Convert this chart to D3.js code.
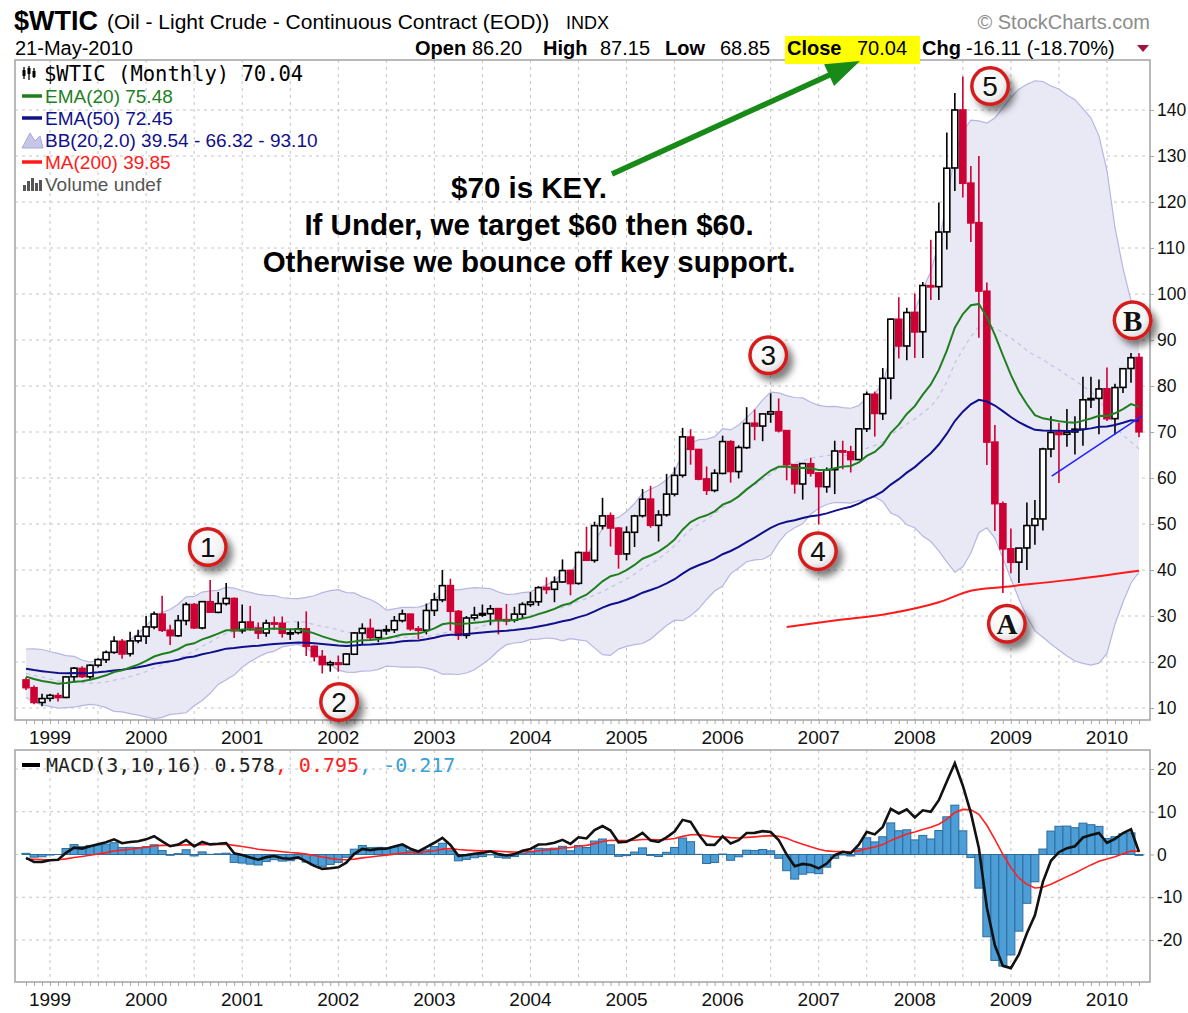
<!DOCTYPE html>
<html>
<head>
<meta charset="utf-8">
<script src="https://cdn.jsdelivr.net/npm/d3@7"></script>
<style>
  body { margin: 0; background: #fff; }
  svg { display: block; }
  text { font-family: "Liberation Sans", Arial, sans-serif; }
</style>
</head>
<body>
<svg width="1188" height="1013"></svg>
<script>
(function () {
  "use strict";

  // ---------- data (monthly, Oct 1998 .. May 2010) ----------
  const yearLabels = ["1999", "2000", "2001", "2002", "2003", "2004", "2005", "2006", "2007", "2008", "2009", "2010"];

  // closes before the first candle, only used to warm up the indicators (Mar 1997 .. Sep 1998)
  const warmupCloses = [20.41, 19.93, 20.88, 19.80, 20.14, 19.61, 21.18, 21.08, 19.15, 17.64,
    17.21, 15.44, 15.61, 15.39, 15.20, 14.18, 14.21, 13.39, 16.14];

  const opens = [
    16.1, 14.4, 11.2,
    12.1, 12.7, 12.3, 16.8, 18.6, 16.8, 19.3, 20.5, 22.1, 24.5, 21.8, 24.6,
    25.6, 27.6, 30.4, 26.9, 25.7, 29.0, 32.5, 27.4, 33.1, 30.8, 32.7, 33.8,
    26.8, 28.7, 27.4, 26.3, 28.5, 28.4, 26.3, 26.4, 27.2, 23.4, 21.2, 19.4,
    19.8, 19.5, 21.7, 26.3, 27.3, 25.3, 26.9, 27.0, 29.0, 30.4, 27.2, 26.9,
    31.2, 33.5, 36.6, 31.0, 25.8, 29.6, 30.2, 30.5, 31.6, 29.2, 29.1, 30.4,
    32.5, 33.1, 36.2, 35.8, 37.4, 39.9, 37.1, 43.8, 42.1, 49.6, 51.8, 49.1,
    43.5, 48.2, 51.8, 55.4, 49.7, 52.0, 56.5, 60.6, 68.9, 66.2, 59.8, 57.3,
    61.0, 67.9, 61.4, 66.6, 71.9, 71.3, 73.9, 74.4, 70.3, 62.9, 58.7, 63.1,
    61.1, 58.1, 61.8, 65.9, 65.7, 64.0, 70.7, 78.2, 74.0, 81.7, 94.5, 88.7,
    96.0, 91.8, 101.8, 101.6, 113.5, 127.4, 140.0, 124.1, 115.5, 100.6, 67.8, 54.4,
    44.6, 41.7, 44.8, 49.7, 51.1, 66.3, 69.9, 69.5, 70.0, 70.6, 77.0, 77.3,
    79.4, 72.9, 79.7, 83.8, 86.2
  ];
  const highs = [
    16.7, 14.9, 13.1,
    13.1, 13.3, 16.9, 18.9, 19.1, 19.5, 20.8, 22.5, 25.6, 25.0, 26.6, 27.0,
    30.0, 31.0, 34.4, 28.1, 30.2, 33.0, 32.8, 33.2, 37.8, 35.2, 37.2, 34.0,
    32.5, 32.2, 28.6, 29.2, 29.9, 29.9, 27.3, 28.8, 31.0, 23.6, 22.6, 20.3,
    21.4, 21.9, 26.5, 28.4, 29.4, 27.0, 28.0, 30.0, 31.4, 30.5, 27.8, 32.7,
    35.0, 39.99, 38.1, 31.3, 30.0, 32.0, 32.5, 32.4, 31.7, 32.6, 32.0, 33.0,
    35.2, 36.5, 38.4, 38.6, 42.3, 40.0, 44.0, 49.4, 50.5, 55.7, 52.5, 49.3,
    49.5, 52.0, 57.6, 58.3, 53.0, 60.9, 62.3, 70.9, 70.6, 66.3, 62.5, 61.9,
    69.2, 68.2, 67.1, 75.4, 74.9, 73.9, 78.4, 77.3, 70.4, 62.9, 63.3, 64.4,
    61.2, 62.3, 68.1, 68.1, 67.0, 70.7, 78.8, 78.8, 83.9, 94.7, 99.3, 97.0,
    100.1, 102.6, 111.8, 119.9, 135.1, 143.7, 147.3, 127.8, 130.0, 102.5, 71.5, 54.9,
    49.0, 43.0, 54.7, 55.2, 66.6, 73.4, 72.0, 75.0, 73.4, 82.0, 82.0, 81.4,
    84.0, 80.5, 83.9, 87.2, 87.15
  ];
  const lows = [
    13.9, 10.8, 10.4,
    11.4, 11.4, 12.1, 15.6, 16.5, 16.3, 18.8, 19.8, 21.8, 20.7, 21.2, 24.1,
    23.9, 27.1, 26.5, 23.7, 25.5, 28.0, 27.2, 27.1, 31.5, 30.6, 32.3, 25.2,
    26.2, 26.8, 25.0, 25.5, 27.0, 25.3, 24.8, 26.0, 21.3, 20.1, 17.5, 17.9,
    17.9, 19.3, 21.5, 23.8, 24.8, 24.3, 25.9, 26.3, 28.6, 26.8, 25.0, 26.0,
    30.0, 33.0, 26.8, 24.8, 25.1, 29.0, 29.8, 28.0, 26.0, 28.0, 28.6, 29.5,
    32.0, 32.2, 34.8, 33.0, 37.2, 34.5, 36.8, 42.0, 41.6, 48.8, 45.1, 40.3,
    42.1, 45.0, 51.4, 49.2, 46.2, 51.6, 56.0, 60.1, 62.9, 59.5, 56.3, 56.9,
    60.8, 59.0, 59.9, 66.3, 68.2, 68.0, 72.0, 69.9, 59.5, 56.6, 55.3, 60.3,
    49.9, 56.8, 56.5, 61.9, 61.2, 64.0, 70.0, 69.0, 72.6, 77.1, 86.0, 85.6,
    86.1, 86.1, 98.7, 98.7, 109.7, 122.4, 121.0, 111.3, 90.5, 62.8, 48.5, 35.0,
    39.3, 37.2, 40.0, 45.5, 48.6, 64.5, 58.9, 66.8, 65.1, 67.0, 75.2, 69.5,
    72.4, 69.5, 78.5, 80.7, 68.85
  ];
  const closes = [
    14.42, 11.22, 12.05,
    12.75, 12.27, 16.76, 18.66, 16.84, 19.29, 20.53, 22.10, 24.51, 21.75, 24.59, 25.60,
    27.64, 30.43, 26.90, 25.74, 29.01, 32.50, 27.43, 33.12, 30.84, 32.70, 33.82, 26.80,
    28.66, 27.39, 26.29, 28.46, 28.37, 26.25, 26.35, 27.20, 23.43, 21.18, 19.44, 19.84,
    19.48, 21.74, 26.31, 27.29, 25.31, 26.86, 27.02, 28.98, 30.45, 27.22, 26.89, 31.20,
    33.51, 36.60, 31.04, 25.80, 29.56, 30.19, 30.54, 31.57, 29.20, 29.11, 30.41, 32.52,
    33.05, 36.16, 35.76, 37.38, 39.88, 37.05, 43.80, 42.12, 49.64, 51.76, 49.13, 43.45,
    48.20, 51.75, 55.40, 49.72, 51.97, 56.50, 60.57, 68.94, 66.24, 59.76, 57.32, 61.04,
    67.92, 61.41, 66.63, 71.88, 71.29, 73.93, 74.40, 70.26, 62.91, 58.73, 63.13, 61.05,
    58.14, 61.79, 65.87, 65.71, 64.01, 70.68, 78.21, 74.04, 81.66, 94.53, 88.71, 95.98,
    91.75, 101.84, 101.58, 113.46, 127.35, 140.00, 124.08, 115.46, 100.64, 67.81, 54.43, 44.60,
    41.68, 44.76, 49.66, 51.12, 66.31, 69.89, 69.45, 69.96, 70.61, 77.00, 77.28, 79.36,
    72.89, 79.66, 83.76, 86.15, 70.04
  ];

  // MA(200): [month index, value]
  const ma200Points = [[95, 27.6], [101, 29.0], [108, 30.6], [114, 33.0], [118, 35.5],
    [122, 36.3], [130, 37.8], [139, 39.85]];
  // hand drawn trend line: [month index, value]
  const trendPoints = [[128.1, 60.4], [139.4, 73.5]];

  const priceTicks = [10, 20, 30, 40, 50, 60, 70, 80, 90, 100, 110, 120, 130, 140];
  const macdTicks = [-20, -10, 0, 10, 20];

  const badges = [
    { label: "1", i: 22.7, v: 45.0 },
    { label: "2", i: 39.1, v: 11.3 },
    { label: "3", i: 92.7, v: 86.7 },
    { label: "4", i: 98.9, v: 44.1 },
    { label: "5", i: 120.4, v: 145.2 },
    { label: "A", i: 122.5, v: 28.3 },
    { label: "B", i: 138.2, v: 94.3 }
  ];
  const noteLines = ["$70 is KEY.", "If Under, we target $60 then $60.", "Otherwise we bounce off key support."];

  // ---------- indicators ----------
  const allCloses = warmupCloses.concat(closes);
  const skip = warmupCloses.length;
  const ema = (vals, n) => {
    const k = 2 / (n + 1);
    const out = [vals[0]];
    for (let i = 1; i < vals.length; i++) out.push(vals[i] * k + out[i - 1] * (1 - k));
    return out;
  };
  const ema20 = ema(allCloses, 20).slice(skip);
  const ema50 = ema(allCloses, 50).slice(skip);
  const macdFull = d3.zip(ema(allCloses, 3), ema(allCloses, 10)).map(([a, b]) => a - b);
  const signalFull = ema(macdFull, 16);
  const macd = macdFull.slice(skip);
  const signal = signalFull.slice(skip);
  const bb = closes.map((c, i) => {
    const win = allCloses.slice(i + skip - 19, i + skip + 1);
    const m = d3.mean(win);
    const sd = Math.sqrt(d3.mean(win, (v) => (v - m) * (v - m)));
    return { i, mid: m, upper: m + 2 * sd, lower: m - 2 * sd };
  });

  const bars = closes.map((c, i) => ({
    i, o: opens[i], h: highs[i], l: lows[i], c,
    prev: i ? closes[i - 1] : warmupCloses[skip - 1]
  }));

  // ---------- layout ----------
  const svg = d3.select("svg");
  const main = { left: 15, right: 1150, top: 60, bottom: 720 };
  const lower = { left: 15, right: 1150, top: 750, bottom: 982 };

  const x = d3.scaleLinear().domain([-1, 140]).range([18, 1147]);
  const y = d3.scaleLinear().domain([10, 140]).range([708, 110]);
  const ym = d3.scaleLinear().domain([-20, 20]).range([940, 769]);
  const step = x(1) - x(0);
  const yearIdx = yearLabels.map((d, k) => 3 + 12 * k);
  const halfIdx = d3.range(3, 140, 6);

  const defs = svg.append("defs");
  defs.append("clipPath").attr("id", "clipMain").append("rect")
    .attr("x", main.left).attr("y", main.top)
    .attr("width", main.right - main.left).attr("height", main.bottom - main.top);
  defs.append("clipPath").attr("id", "clipLower").append("rect")
    .attr("x", lower.left).attr("y", lower.top)
    .attr("width", lower.right - lower.left).attr("height", lower.bottom - lower.top);
  defs.append("filter").attr("id", "shadow")
    .attr("x", "-50%").attr("y", "-50%").attr("width", "220%").attr("height", "220%")
    .append("feDropShadow")
    .attr("dx", 5).attr("dy", 6).attr("stdDeviation", 3.5)
    .attr("flood-color", "#000").attr("flood-opacity", 0.5);
  const grad = defs.append("radialGradient").attr("id", "badgeFill")
    .attr("cx", "40%").attr("cy", "35%").attr("r", "70%");
  grad.append("stop").attr("offset", "0%").attr("stop-color", "#ffffff");
  grad.append("stop").attr("offset", "70%").attr("stop-color", "#f4f4f4");
  grad.append("stop").attr("offset", "100%").attr("stop-color", "#d8d8d8");

  // ---------- grids ----------
  const grid = (panel, yTicks, yScale) => {
    const g = svg.append("g").attr("stroke", "#c4c4c4").attr("stroke-dasharray", "3,4");
    g.selectAll("line.v").data(halfIdx).enter().append("line")
      .attr("x1", (d) => x(d)).attr("x2", (d) => x(d))
      .attr("y1", panel.top).attr("y2", panel.bottom);
    g.selectAll("line.h").data(yTicks).enter().append("line")
      .attr("x1", panel.left).attr("x2", panel.right)
      .attr("y1", (d) => yScale(d)).attr("y2", (d) => yScale(d));
  };
  grid(main, priceTicks, y);
  grid(lower, macdTicks, ym);

  // ---------- price panel ----------
  const gm = svg.append("g").attr("clip-path", "url(#clipMain)");

  gm.append("path").datum(bb)
    .attr("fill", "#e9e9f5").attr("stroke", "none")
    .attr("d", d3.area().x((d) => x(d.i)).y0((d) => y(d.lower)).y1((d) => y(d.upper)));
  ["upper", "lower"].forEach((k) => {
    gm.append("path").datum(bb)
      .attr("fill", "none").attr("stroke", "#b6b6e2").attr("stroke-width", 1.2)
      .attr("d", d3.line().x((d) => x(d.i)).y((d) => y(d[k])));
  });
  gm.append("path").datum(bb)
    .attr("fill", "none").attr("stroke", "#c2c2e6").attr("stroke-width", 1.2)
    .attr("stroke-dasharray", "4,4")
    .attr("d", d3.line().x((d) => x(d.i)).y((d) => y(d.mid)));

  gm.append("path").datum(ma200Points)
    .attr("fill", "none").attr("stroke", "#ff1a1a").attr("stroke-width", 2)
    .attr("d", d3.line().x((d) => x(d[0])).y((d) => y(d[1])).curve(d3.curveMonotoneX));

  const candleColor = (d) => (d.c < d.prev ? "#cc0033" : "#000");
  const candles = gm.append("g").selectAll("g").data(bars).enter().append("g");
  candles.append("line")
    .attr("x1", (d) => x(d.i)).attr("x2", (d) => x(d.i))
    .attr("y1", (d) => y(d.h)).attr("y2", (d) => y(d.l))
    .attr("stroke", candleColor).attr("stroke-width", 1.6);
  candles.append("rect")
    .attr("x", (d) => x(d.i) - 3)
    .attr("width", 6)
    .attr("y", (d) => y(Math.max(d.o, d.c)))
    .attr("height", (d) => Math.max(1.2, Math.abs(y(d.o) - y(d.c))))
    .attr("fill", (d) => (d.c >= d.o ? "#fff" : candleColor(d)))
    .attr("stroke", candleColor).attr("stroke-width", 1.6);

  const lineIdx = d3.line().x((d, i) => x(i)).y((d) => y(d));
  gm.append("path").datum(ema50)
    .attr("fill", "none").attr("stroke", "#10108c").attr("stroke-width", 2)
    .attr("d", lineIdx);
  gm.append("path").datum(ema20)
    .attr("fill", "none").attr("stroke", "#1f7f1f").attr("stroke-width", 2)
    .attr("d", lineIdx);

  gm.append("path").datum(trendPoints)
    .attr("fill", "none").attr("stroke", "#2222ff").attr("stroke-width", 1.6)
    .attr("d", d3.line().x((d) => x(d[0])).y((d) => y(d[1])));

  // ---------- MACD panel ----------
  const gl = svg.append("g").attr("clip-path", "url(#clipLower)");
  gl.selectAll("rect").data(macd.map((m, i) => ({ i, h: m - signal[i] }))).enter().append("rect")
    .attr("x", (d) => x(d.i) - step / 2)
    .attr("width", step)
    .attr("y", (d) => Math.min(ym(0), ym(d.h)))
    .attr("height", (d) => Math.abs(ym(d.h) - ym(0)))
    .attr("fill", "#4d9dd6").attr("stroke", "#2c6d9e").attr("stroke-width", 1);
  gl.append("path").datum(signal)
    .attr("fill", "none").attr("stroke", "#ff2020").attr("stroke-width", 1.6)
    .attr("d", d3.line().x((d, i) => x(i)).y((d) => ym(d)));
  gl.append("path").datum(macd)
    .attr("fill", "none").attr("stroke", "#111").attr("stroke-width", 2.6)
    .attr("d", d3.line().x((d, i) => x(i)).y((d) => ym(d)));

  // ---------- frames and axes ----------
  [main, lower].forEach((p) => {
    svg.append("rect")
      .attr("x", p.left).attr("y", p.top)
      .attr("width", p.right - p.left).attr("height", p.bottom - p.top)
      .attr("fill", "none").attr("stroke", "#a8a8a8").attr("stroke-width", 1.6);
  });

  const yearAxis = (yPos) => {
    const g = svg.append("g").attr("transform", `translate(0,${yPos})`)
      .call(d3.axisBottom(x).tickValues(d3.range(0, 140)).tickSize(4).tickFormat(""));
    g.select(".domain").remove();
    g.selectAll(".tick line").attr("stroke", "#a8a8a8");
    svg.append("g").selectAll("text").data(yearIdx).enter().append("text")
      .attr("x", (d) => x(d)).attr("y", yPos + 24)
      .attr("text-anchor", "middle")
      .style("font-size", "19px").attr("fill", "#111")
      .text((d, k) => yearLabels[k]);
  };
  yearAxis(main.bottom);
  yearAxis(lower.bottom);

  const rightAxis = (scale, ticks) => {
    const g = svg.append("g").attr("transform", `translate(${main.right},0)`)
      .call(d3.axisRight(scale).tickValues(ticks).tickSize(4).tickPadding(3)
        .tickFormat((d) => String(d)));
    g.select(".domain").remove();
    g.selectAll(".tick line").attr("stroke", "#a8a8a8");
    g.selectAll(".tick text")
      .style("font-family", "'Liberation Sans', Arial, sans-serif")
      .style("font-size", "17.5px").attr("fill", "#111");
  };
  rightAxis(y, priceTicks);
  rightAxis(ym, macdTicks);

  // ---------- header ----------
  svg.append("text").attr("x", 14).attr("y", 30)
    .style("font-size", "27px").style("font-weight", "bold").text("$WTIC");
  svg.append("text").attr("x", 107).attr("y", 29)
    .style("font-size", "21px").text("(Oil - Light Crude - Continuous Contract (EOD))");
  svg.append("text").attr("x", 566).attr("y", 29)
    .style("font-size", "18px").text("INDX");
  svg.append("text").attr("x", 15).attr("y", 55)
    .style("font-size", "20px").text("21-May-2010");
  svg.append("text").attr("x", 1150).attr("y", 29).attr("text-anchor", "end")
    .style("font-size", "20px").attr("fill", "#8c8c8c").text("\u00A9 StockCharts.com");

  svg.append("rect").attr("x", 785).attr("y", 36).attr("width", 135).attr("height", 28)
    .attr("fill", "#ffff00");
  const stats = [
    ["Open", true, 415], ["86.20", false, 472], ["High", true, 543], ["87.15", false, 600],
    ["Low", true, 665], ["68.85", false, 720], ["Close", true, 787], ["70.04", false, 857],
    ["Chg", true, 922], ["-16.11 (-18.70%)", false, 966]
  ];
  svg.append("g").selectAll("text").data(stats).enter().append("text")
    .attr("x", (d) => d[2]).attr("y", 55)
    .style("font-size", "20px")
    .style("font-weight", (d) => (d[1] ? "bold" : "normal"))
    .text((d) => d[0]);
  svg.append("path").attr("d", "M1137,45 L1149,45 L1143,52 Z").attr("fill", "#a3123f");

  // ---------- legends ----------
  const lg = svg.append("g");
  // price glyph
  [[24, 67, 79, 70, 76], [29, 66, 80, 68, 74], [34, 68, 78, 71, 77]].forEach((c) => {
    lg.append("line").attr("x1", c[0]).attr("x2", c[0]).attr("y1", c[1]).attr("y2", c[2])
      .attr("stroke", "#000").attr("stroke-width", 1.3);
    lg.append("rect").attr("x", c[0] - 1.5).attr("y", c[3]).attr("width", 3).attr("height", c[4] - c[3])
      .attr("fill", "#000");
  });
  lg.append("text").attr("x", 44).attr("y", 81)
    .style("font-size", "20.5px").style("font-family", "'DejaVu Sans Mono', monospace")
    .text("$WTIC (Monthly) 70.04");

  const legendRows = [
    { y: 96, color: "#1f7f1f", text: "EMA(20) 75.48", icon: "dash" },
    { y: 118, color: "#10108c", text: "EMA(50) 72.45", icon: "dash" },
    { y: 140, color: "#10108c", text: "BB(20,2.0) 39.54 - 66.32 - 93.10", icon: "band" },
    { y: 162, color: "#ff1a1a", text: "MA(200) 39.85", icon: "dash" },
    { y: 184, color: "#555", text: "Volume undef", icon: "vol" }
  ];
  legendRows.forEach((r) => {
    if (r.icon === "dash") {
      lg.append("line").attr("x1", 22).attr("x2", 42).attr("y1", r.y).attr("y2", r.y)
        .attr("stroke", r.color).attr("stroke-width", 3.5);
    } else if (r.icon === "band") {
      lg.append("path").attr("d", `M22,${r.y + 8} L30,${r.y - 7} L35,${r.y + 1} L40,${r.y - 4} L43,${r.y + 8} Z`)
        .attr("fill", "#c6c6e8").attr("stroke", "#a8a8d8");
    } else {
      [[23, 6], [27, 10], [31, 13], [35, 8], [39, 11]].forEach((b) => {
        lg.append("rect").attr("x", b[0]).attr("y", r.y + 7 - b[1]).attr("width", 3).attr("height", b[1])
          .attr("fill", "#555");
      });
    }
    lg.append("text").attr("x", 45).attr("y", r.y + 7)
      .style("font-size", "19px").attr("fill", r.color).text(r.text);
  });

  lg.append("line").attr("x1", 22).attr("x2", 40).attr("y1", 765).attr("y2", 765)
    .attr("stroke", "#000").attr("stroke-width", 4);
  const ml = lg.append("text").attr("x", 46).attr("y", 772)
    .style("font-size", "20px").style("font-family", "'DejaVu Sans Mono', monospace");
  ml.append("tspan").attr("fill", "#222").text("MACD(3,10,16) 0.578");
  ml.append("tspan").attr("fill", "#ff2020").text(", 0.795");
  ml.append("tspan").attr("fill", "#3aa0d8").text(", -0.217");

  // ---------- annotations ----------
  const notes = svg.append("g");
  notes.selectAll("text").data(noteLines).enter().append("text")
    .attr("x", 529).attr("y", (d, k) => 198 + 37 * k)
    .attr("text-anchor", "middle")
    .style("font-size", "29.5px").style("font-weight", "bold").attr("fill", "#000")
    .text((d) => d);

  const tail = [612, 174], tip = [860, 61];
  const dx = tip[0] - tail[0], dy = tip[1] - tail[1];
  const len = Math.hypot(dx, dy), ux = dx / len, uy = dy / len;
  const headLen = 34, headW = 12;
  const bx = tip[0] - ux * headLen, by = tip[1] - uy * headLen;
  notes.append("line")
    .attr("x1", tail[0]).attr("y1", tail[1]).attr("x2", bx + ux * 4).attr("y2", by + uy * 4)
    .attr("stroke", "#178a17").attr("stroke-width", 5.5);
  notes.append("path")
    .attr("d", `M${tip[0]},${tip[1]} L${bx - uy * headW},${by + ux * headW} L${bx + uy * headW},${by - ux * headW} Z`)
    .attr("fill", "#178a17");

  const bg = svg.append("g").selectAll("g").data(badges).enter().append("g")
    .attr("transform", (d) => `translate(${x(d.i)},${y(d.v)})`);
  bg.append("circle").attr("r", 20).attr("fill", "#d41c1c").attr("filter", "url(#shadow)");
  bg.append("circle").attr("r", 16.5).attr("fill", "url(#badgeFill)");
  bg.append("text")
    .attr("text-anchor", "middle").attr("dy", "0.36em")
    .style("font-family", (d) => (/[A-Z]/.test(d.label) ? "'Liberation Serif', 'Times New Roman', serif" : "'Liberation Sans', Arial, sans-serif"))
    .style("font-weight", (d) => (/[A-Z]/.test(d.label) ? "bold" : "normal"))
    .style("font-size", (d) => (/[A-Z]/.test(d.label) ? "29px" : "28px"))
    .attr("fill", "#111")
    .text((d) => d.label);
})();
</script>
</body>
</html>
